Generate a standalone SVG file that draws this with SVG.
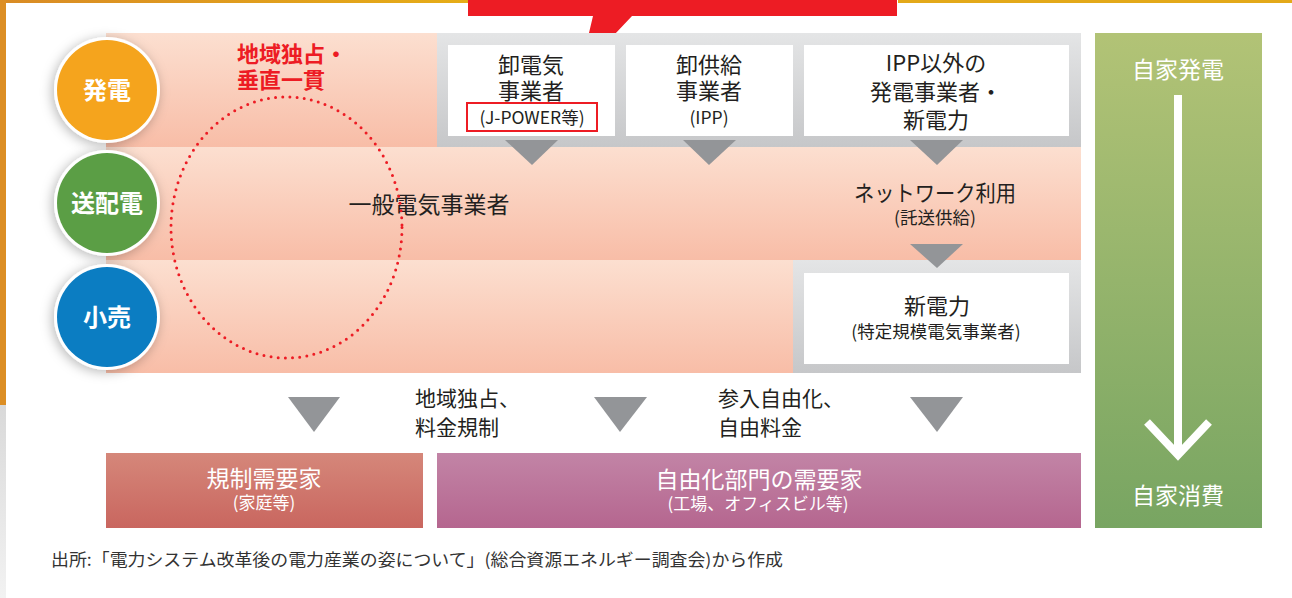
<svg xmlns="http://www.w3.org/2000/svg" width="1292" height="598" viewBox="0 0 1292 598">
<defs>
<linearGradient id="gBand" x1="0" y1="0" x2="0" y2="1"><stop offset="0" stop-color="#fcdfd0"/><stop offset="1" stop-color="#f8bda7"/></linearGradient>
<linearGradient id="gGray" x1="0" y1="0" x2="0" y2="1"><stop offset="0" stop-color="#e4e5e6"/><stop offset="1" stop-color="#c6c7c9"/></linearGradient>
<linearGradient id="gGreen" x1="0" y1="0" x2="0" y2="1"><stop offset="0" stop-color="#b2c376"/><stop offset="1" stop-color="#78a562"/></linearGradient>
<linearGradient id="gReg" x1="0" y1="0" x2="0" y2="1"><stop offset="0" stop-color="#d5877a"/><stop offset="1" stop-color="#c9665f"/></linearGradient>
<linearGradient id="gLib" x1="0" y1="0" x2="0" y2="1"><stop offset="0" stop-color="#c284a6"/><stop offset="1" stop-color="#b5668f"/></linearGradient>
<linearGradient id="gGold" x1="0" y1="0" x2="1" y2="0"><stop offset="0" stop-color="#d98b25"/><stop offset="1" stop-color="#e6ad17"/></linearGradient>
<linearGradient id="gEdge" x1="0" y1="0" x2="0" y2="1"><stop offset="0" stop-color="#d9d9d9"/><stop offset="1" stop-color="#f2f2f2"/></linearGradient>
<filter id="shadow" x="-40%" y="-40%" width="180%" height="180%"><feDropShadow dx="-2" dy="2" stdDeviation="6" flood-color="#000" flood-opacity="0.28"/></filter>
<style>
text{font-family:"Noto Sans CJK JP","Noto Sans",sans-serif;text-anchor:middle;}
.lbl{font-size:22px;fill:#231f20;}
.sm{font-size:17.5px;fill:#231f20;}
.circ{font-size:24px;fill:#ffffff;font-weight:bold;}
.wl{font-size:23px;fill:#ffffff;}
.ws{font-size:17px;fill:#ffffff;}
.red{font-size:22px;fill:#ed1c24;font-weight:bold;text-anchor:start;}
.note{font-size:21px;fill:#231f20;text-anchor:start;}
.tri{fill:#939598;}
.box{fill:#ffffff;}
</style>
</defs>
<rect width="1292" height="598" fill="#ffffff"/>
<g id="frame">
<rect x="0" y="0" width="468" height="3" fill="url(#gGold)"/>
<rect x="898" y="0" width="394" height="3" fill="#e3a919"/>
<rect x="0" y="0" width="6" height="405" fill="#dc8e24"/>
<rect x="0" y="405" width="6" height="193" fill="url(#gEdge)"/>
</g>
<g id="callout">
<path d="M468,0 H897 V16 H632 L580,71 L593,16 H468 Z" fill="#ed1c24"/>
</g>
<g id="bands">
<rect x="106" y="33" width="331" height="114" fill="url(#gBand)"/>
<rect x="437" y="33" width="644" height="114" fill="url(#gGray)"/>
<rect x="106" y="147" width="975" height="113" fill="url(#gBand)"/>
<rect x="106" y="260" width="687" height="113" fill="url(#gBand)"/>
<rect x="793" y="260" width="288" height="113" fill="url(#gGray)"/>
</g>
<g id="node-oroshi-denki">
<rect class="box" x="448" y="45" width="167" height="91"/>
<text class="lbl" x="531" y="73">卸電気</text>
<text class="lbl" x="531" y="99">事業者</text>
<rect x="467" y="103" width="130" height="28" fill="none" stroke="#ed1c24" stroke-width="2"/>
<text class="sm" x="532" y="124">(J-POWER等)</text>
</g>
<g id="node-oroshi-kyokyu">
<rect class="box" x="626" y="45" width="167" height="91"/>
<text class="lbl" x="709" y="73">卸供給</text>
<text class="lbl" x="709" y="99">事業者</text>
<text class="sm" x="709" y="124">(IPP)</text>
</g>
<g id="node-ipp-other">
<rect class="box" x="804" y="45" width="265" height="91"/>
<text class="lbl" x="936" y="71">IPP以外の</text>
<text class="lbl" x="936" y="100">発電事業者・</text>
<text class="lbl" x="936" y="128">新電力</text>
</g>
<g id="node-ippan">
<text class="lbl" x="429" y="213" style="font-size:23px">一般電気事業者</text>
</g>
<g id="node-network">
<text class="lbl" x="935" y="201" textLength="162" lengthAdjust="spacingAndGlyphs">ネットワーク利用</text>
<text class="sm" x="935" y="224">(託送供給)</text>
</g>
<g id="node-shindenryoku">
<rect class="box" x="804" y="273" width="265" height="91"/>
<text class="lbl" x="937" y="314">新電力</text>
<text class="sm" x="936" y="338">(特定規模電気事業者)</text>
</g>
<g id="node-monopoly">
<ellipse cx="286.5" cy="227.5" rx="115.5" ry="130.5" fill="none" stroke="#ed1c24" stroke-width="3" stroke-dasharray="0 7.2" stroke-linecap="round"/>
<text class="red" x="237" y="62">地域独占・</text>
<text class="red" x="237" y="88">垂直一貫</text>
</g>
<g id="node-hatsuden">
<circle cx="107" cy="90" r="53" fill="#ffffff" filter="url(#shadow)"/>
<circle cx="107" cy="90" r="50" fill="#f5a41d"/>
<text class="circ" x="107" y="99">発電</text>
</g>
<g id="node-souhaiden">
<circle cx="107" cy="203" r="53" fill="#ffffff" filter="url(#shadow)"/>
<circle cx="107" cy="203" r="50" fill="#5b9e45"/>
<text class="circ" x="107" y="212">送配電</text>
</g>
<g id="node-kouri">
<circle cx="107" cy="317" r="53" fill="#ffffff" filter="url(#shadow)"/>
<circle cx="107" cy="317" r="50" fill="#0b7dc2"/>
<text class="circ" x="107" y="326">小売</text>
</g>
<g id="node-regulated-note">
<text class="note" x="415" y="406">地域独占、</text>
<text class="note" x="415" y="435">料金規制</text>
</g>
<g id="node-liberal-note">
<text class="note" x="718" y="406">参入自由化、</text>
<text class="note" x="718" y="435">自由料金</text>
</g>
<g id="node-regulated">
<rect x="106" y="453" width="317" height="75" fill="url(#gReg)"/>
<text class="wl" x="264" y="487">規制需要家</text>
<text class="ws" x="264" y="509">(家庭等)</text>
</g>
<g id="node-liberal">
<rect x="437" y="453" width="644" height="75" fill="url(#gLib)"/>
<text class="wl" x="759" y="488">自由化部門の需要家</text>
<text class="ws" x="758" y="510">(工場、オフィスビル等)</text>
</g>
<g id="node-jika">
<rect x="1095" y="33" width="167" height="495" fill="url(#gGreen)"/>
<text class="wl" x="1178" y="78">自家発電</text>
<text class="wl" x="1178" y="504">自家消費</text>
</g>
<g id="connectors">
<polygon class="tri" points="505,140 558,140 532,165"/>
<polygon class="tri" points="683,140 736,140 709,165"/>
<polygon class="tri" points="910,140 963,140 937,165"/>
<polygon class="tri" points="910,244 963,244 937,268"/>
<polygon class="tri" points="288,397 340,397 314,432"/>
<polygon class="tri" points="594,397 647,397 620,432"/>
<polygon class="tri" points="910,397 963,397 937,432"/>
<line x1="1178" y1="95" x2="1178" y2="456" stroke="#ffffff" stroke-width="8"/>
<polyline points="1147,422 1178,455 1209,422" fill="none" stroke="#ffffff" stroke-width="8"/>
</g>
<g id="footer">
<text x="51" y="566" textLength="732" lengthAdjust="spacingAndGlyphs" style="font-size:17px;fill:#333333;text-anchor:start;">出所:「電力システム改革後の電力産業の姿について」(総合資源エネルギー調査会)から作成</text>
</g>
</svg>
